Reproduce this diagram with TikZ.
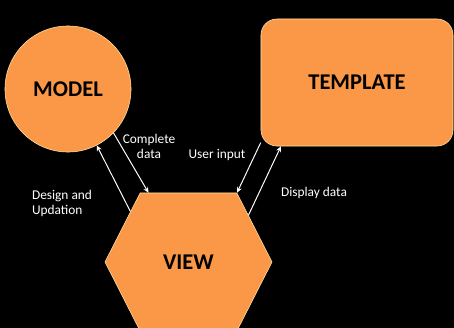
\documentclass[tikz,border=0pt]{standalone}
\usepackage{fontspec}
\setmainfont{Carlito}
\usepackage{xcolor}
\usepackage{tikz}
\usetikzlibrary{positioning, arrows.meta, shapes.geometric, shapes.symbols}
\definecolor{mvtorange}{RGB}{250,152,72}
\definecolor{mvtedge}{RGB}{255,226,160}

\begin{document}
\begin{tikzpicture}[
        x=0.025cm, y=-0.025cm,
        every node/.style={font=\fontsize{9.5}{10.7}\selectfont, text=white},
        part/.style={draw=mvtedge, line width=0.4pt, fill=mvtorange, text=black, inner sep=0pt, font=\fontsize{16}{18}\selectfont\bfseries},
        lbl/.style={align=center, inner sep=1pt},
        arrow/.style={-{Stealth[length=4pt, width=3.6pt]}, draw=white, line width=0.7pt}
    ]
        \fill[black] (0,0) rectangle (454,328);
        \useasboundingbox (0,0) rectangle (454,328);

        \node[part, circle, minimum size=3.15cm] (model) at (68,89) {MODEL};
        \node[part, rectangle, rounded corners=0.4cm, minimum width=4.8cm, minimum height=3.175cm] (template) at (357,82.5) {TEMPLATE};
        \node[part, signal, signal to=west and east, signal pointer angle=126, minimum width=4.175cm, minimum height=3.45cm] (view) at (188.5,262) {VIEW};

        \node[lbl] (complete) at (149,146) {Complete\\data};
        \node[lbl] (userin) at (217,155) {User input};
        \node[lbl, align=left] (design) at (62,203) {Design and\\Updation};
        \node[lbl] (display) at (314,193) {Display data};

        \draw[arrow] (view.139) -- (model.-63);
        \draw[arrow] (model.-44) -- (view.120.5);
        \draw[arrow] (template.-148) -- (view.55);
        \draw[arrow] (view.38) -- (template.-140);
    \end{tikzpicture}
\end{document}
